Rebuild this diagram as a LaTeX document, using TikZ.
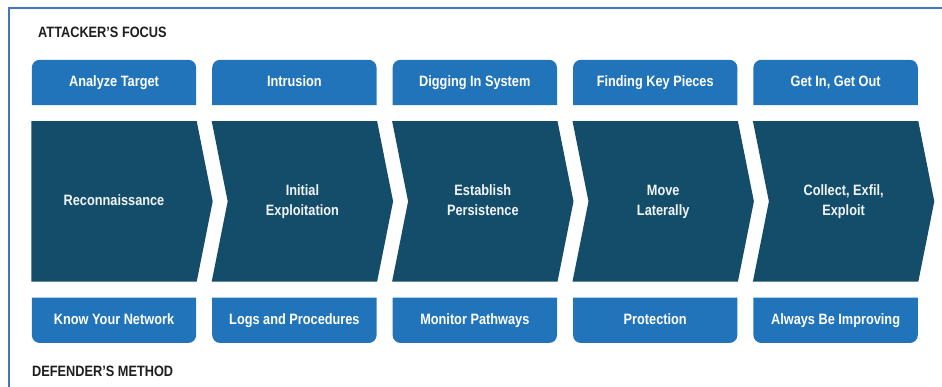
\documentclass[tikz,border=0pt]{standalone}
\usepackage{fontspec}
\setmainfont{Liberation Sans}[FakeStretch=0.85]
\usepackage{tikz}
\usetikzlibrary{positioning,backgrounds}
\definecolor{tabblue}{HTML}{2174BA}
\definecolor{stageblue}{HTML}{144D6A}
\definecolor{frameblue}{HTML}{4472C4}
\definecolor{headink}{HTML}{1E1E1E}
\tikzset{
  tab/.style={rectangle,minimum width=164pt,minimum height=45pt,inner sep=0pt,
    text height=11pt,text depth=3pt,
    text=white,font=\bfseries\fontsize{15}{20}\selectfont},
  stage/.style={rectangle,minimum height=160pt,inner sep=0pt,align=center,
    text depth=3pt,
    text=white!94!stageblue,font=\bfseries\fontsize{15}{20}\selectfont},
  tabfill/.style={fill=tabblue,rounded corners=8pt},
  stagefill/.style={fill=stageblue},
  heading/.style={anchor=base west,inner sep=0pt,text=headink,
    font=\bfseries\fontsize{15}{18}\selectfont}
}

\begin{document}
\begin{tikzpicture}[x=1pt,y=1pt]
\useasboundingbox (0,0) rectangle (942,387);
\draw[frameblue,line width=1.5pt] (9,0) |- (942,379);
\node[heading] (focus) at (38,349) {ATTACKER’S FOCUS};
\node[heading] (method) at (32,10) {DEFENDER’S METHOD};
\node[tab] (analyze) at (114,304.5) {Analyze Target};
\node[tab,right=16pt of analyze] (intrusion) {Intrusion};
\node[tab,right=16pt of intrusion] (digging) {Digging In System};
\node[tab,right=16pt of digging] (finding) {Finding Key Pieces};
\node[tab,right=16pt of finding] (getin) {Get In, Get Out};
\node[stage,minimum width=165pt,below=16pt of analyze] (recon) {Reconnaissance};
\node[stage,minimum width=149pt,right=31pt of recon] (initial) {Initial\\Exploitation};
\node[stage,minimum width=149pt,right=31pt of initial] (persist) {Establish\\Persistence};
\node[stage,minimum width=149pt,right=31pt of persist] (lateral) {Move\\Laterally};
\node[stage,minimum width=149pt,right=31pt of lateral] (collect) {Collect, Exfil,\\Exploit};
\node[tab,below=16pt of recon] (know) {Know Your Network};
\node[tab,right=16pt of know] (logs) {Logs and Procedures};
\node[tab,right=16pt of logs] (monitor) {Monitor Pathways};
\node[tab,right=16pt of monitor] (protection) {Protection};
\node[tab,right=16pt of protection] (improving) {Always Be Improving};
\begin{scope}[on background layer]
\foreach \n in {analyze,intrusion,digging,finding,getin}
  \fill[tabfill] (\n.south west) |- (\n.north east) -- (\n.south east);
\foreach \n in {know,logs,monitor,protection,improving}
  \fill[tabfill] (\n.north west) |- (\n.south east) -- (\n.north east);
\fill[stagefill] (recon.north west) -- (recon.north east) -- ([xshift=16pt]recon.east)
  -- (recon.south east) -- (recon.south west) -- cycle;
\foreach \n in {initial,persist,lateral,collect}
  \fill[stagefill] ([xshift=-16pt]\n.north west) -- (\n.north east) -- ([xshift=16pt]\n.east)
    -- (\n.south east) -- ([xshift=-16pt]\n.south west) -- (\n.west) -- cycle;
\end{scope}
\end{tikzpicture}
\end{document}
